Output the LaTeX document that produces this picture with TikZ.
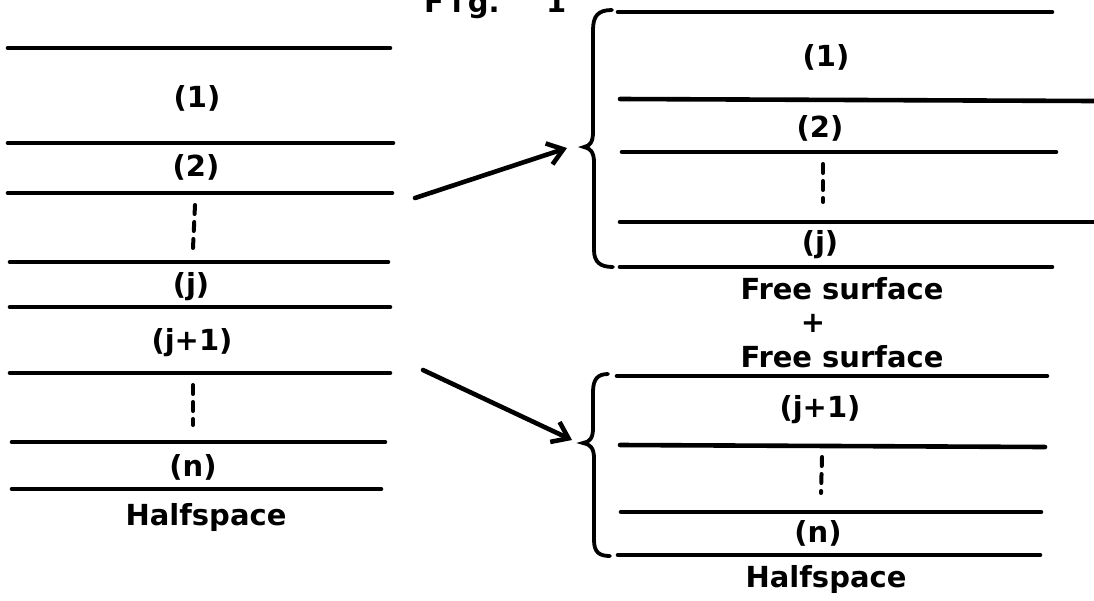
\documentclass[tikz,border=0pt]{standalone}
\usepackage{fontspec}
\setmainfont{DejaVu Sans}
\usetikzlibrary{arrows.meta}
\begin{document}
\begin{tikzpicture}[x=1pt,y=-1pt,
  layer/.style={line width=4.6pt, line cap=round},
  lbl/.style={font=\bfseries\fontsize{29}{33}\selectfont, inner sep=0pt},
  dotsline/.style={line width=4pt, dash pattern=on 9pt off 8pt, line cap=round},
  brc/.style={line width=3.8pt, line cap=round},
  arr/.style={line width=4.6pt, line cap=round, -{Straight Barb[length=15pt,width=22pt,line width=4.6pt]}}]
\clip (0,0) rectangle (1094,600);
\useasboundingbox (0,0) rectangle (1094,600);
% title (cut off at the top)
\node[lbl, anchor=base west] (figlbl) at (424,12) {F\hspace{8pt}i\hspace{6pt}g.};
\node[lbl, anchor=base west] (fignum) at (546,12) {1};
% ---------------- left stack ----------------
\draw[layer] (8,48) -- (390,48);
\draw[layer] (8,143) -- (393,143);
\draw[layer] (8,193) -- (392,193);
\draw[layer] (10,262) -- (388,262);
\draw[layer] (10,307) -- (390,307);
\draw[layer] (10,373) -- (390,373);
\draw[layer] (12,442) -- (385,442);
\draw[layer] (12,489) -- (381,489);
\node[lbl] (L1) at (197,98) {(1)};
\node[lbl] (L2) at (196,167) {(2)};
\draw[dotsline] (195,205) -- (193,248);
\node[lbl] (Lj) at (191,287) {(j)};
\node[lbl] (Lj1) at (192,343) {(j+1)};
\draw[dotsline] (193,385) -- (193,425);
\node[lbl] (Ln) at (193,467) {(n)};
\node[lbl] (Lh) at (206,517) {Halfspace};
% ---------------- right upper stack ----------------
\draw[layer] (618,12) -- (1052,12);
\draw[layer] (620,99) -- (1094,101);
\draw[layer] (622,152) -- (1056,152);
\draw[layer] (620,222) -- (1094,222);
\draw[layer] (620,267) -- (1052,267);
\node[lbl] (R1) at (826,57) {(1)};
\node[lbl] (R2) at (820,128) {(2)};
\draw[dotsline] (823,164) -- (823,202);
\node[lbl] (Rj) at (820,245) {(j)};
\node[lbl] (Rf1) at (842,289) {Free surface};
\node[lbl] (plus) at (813,323) {+};
\node[lbl] (Rf2) at (842,357) {Free surface};
\coordinate (tipA) at (584,147);
\draw[brc] (612,10) .. controls (598,10) and (593,16) .. (593,30) -- (593,132)
  .. controls (593,142) and (590,146) .. (tipA)
  .. controls (590,148) and (594,152) .. (594,162) -- (594,250)
  .. controls (594,262) and (600,267) .. (613,267);
% ---------------- right lower stack ----------------
\draw[layer] (617,376) -- (1047,376);
\draw[layer] (620,445) -- (1045,447);
\draw[layer] (621,512) -- (1041,512);
\draw[layer] (618,555) -- (1040,555);
\node[lbl] (Rj1) at (820,410) {(j+1)};
\draw[dotsline] (822,457) -- (821,493);
\node[lbl] (Rn) at (818,533) {(n)};
\node[lbl] (Rh) at (826,579) {Halfspace};
\coordinate (tipB) at (583,443);
\draw[brc] (608,374) .. controls (597,374) and (593,380) .. (593,392) -- (593,428)
  .. controls (593,438) and (590,442) .. (tipB)
  .. controls (590,444) and (594,448) .. (594,458) -- (594,540)
  .. controls (594,552) and (599,556) .. (610,556);
% ---------------- arrows ----------------
\coordinate (a1s) at (415,198);
\coordinate (a1e) at (567,148);
\coordinate (a2s) at (423,370);
\coordinate (a2e) at (572,440);
\draw[arr] (a1s) -- (a1e);
\draw[arr] (a2s) -- (a2e);
\end{tikzpicture}
\end{document}
